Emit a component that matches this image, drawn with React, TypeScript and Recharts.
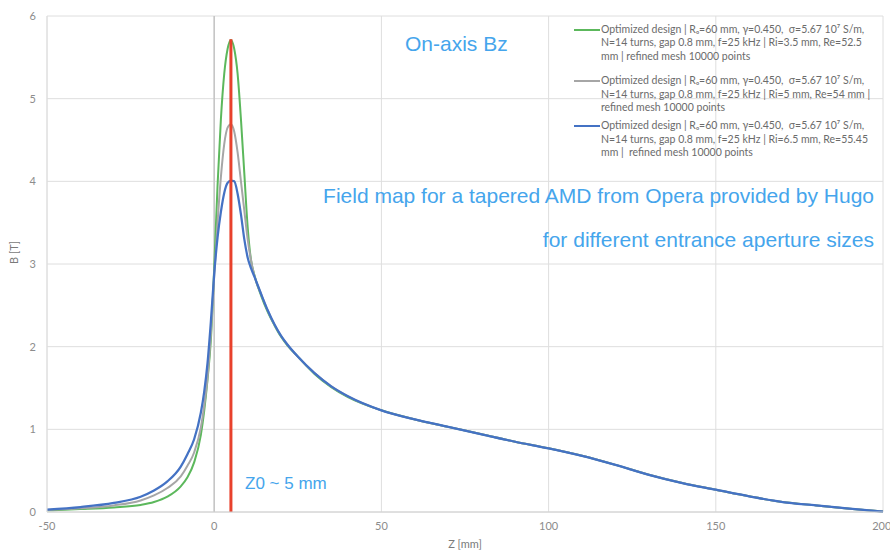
import React from "react";
import {
  LineChart,
  Line,
  XAxis,
  YAxis,
  CartesianGrid,
  ReferenceLine,
  Legend,
} from "recharts";

// axial position in mm
const zValues = [
  -50, -40, -30, -22, -18, -14, -10, -8, -6, -4, -3, -2, -1,
  0, 1, 2, 3, 4, 5, 6, 7, 8, 9, 10, 11,
  12, 14, 16, 18, 20, 22, 25, 30, 35, 40,
  50, 60, 70, 80, 90, 100, 110, 120, 130, 140, 150, 160, 170, 180, 190, 200,
];

// Ri = 3.5 mm
const bRi35 = [
  0.02, 0.035, 0.055, 0.085, 0.12, 0.185, 0.31, 0.42, 0.6, 0.93, 1.22, 1.6, 2.08,
  2.95, 3.95, 4.75, 5.3, 5.6, 5.71, 5.6, 5.3, 4.75, 4.1, 3.45, 3.05,
  2.87, 2.62, 2.42, 2.26, 2.12, 2.01, 1.88, 1.67, 1.51, 1.39,
  1.23, 1.12, 1.03, 0.94, 0.85, 0.77, 0.68, 0.57, 0.45, 0.35, 0.27, 0.19, 0.12, 0.08, 0.04, 0.005,
];

// Ri = 5 mm
const bRi5 = [
  0.025, 0.045, 0.08, 0.14, 0.2, 0.29, 0.43, 0.56, 0.72, 1.02, 1.28, 1.62, 2.15,
  2.85, 3.5, 4.05, 4.45, 4.65, 4.69, 4.6, 4.35, 4.0, 3.65, 3.3, 3.05,
  2.86, 2.64, 2.44, 2.27, 2.13, 2.02, 1.88, 1.68, 1.52, 1.4,
  1.23, 1.12, 1.03, 0.94, 0.85, 0.77, 0.68, 0.57, 0.45, 0.35, 0.27, 0.19, 0.12, 0.08, 0.04, 0.005,
];

// Ri = 6.5 mm
const bRi65 = [
  0.03, 0.06, 0.11, 0.185, 0.26, 0.37, 0.55, 0.7, 0.88, 1.2, 1.45, 1.8, 2.3,
  2.88, 3.32, 3.63, 3.86, 3.98, 4.01, 4.0, 3.85, 3.6, 3.3, 3.08, 2.95,
  2.85, 2.64, 2.44, 2.27, 2.13, 2.02, 1.88, 1.68, 1.52, 1.4,
  1.23, 1.12, 1.03, 0.94, 0.85, 0.77, 0.68, 0.57, 0.45, 0.35, 0.27, 0.19, 0.12, 0.08, 0.04, 0.005,
];

const xTicks = [-50, 0, 50, 100, 150, 200];
const yTicks = [0, 1, 2, 3, 4, 5, 6];

const z0 = 5;
const z0Top = 5.72;

const legendHead = "Optimized design | R\u2092=60 mm, \u03b3=0.450,  \u03c3=5.67 10\u2077 S/m,";
const legendRows = [
  { key: "ri35", color: "#5cb85c", gap: 11, lines: [legendHead, "N=14 turns, gap 0.8 mm, f=25 kHz | Ri=3.5 mm, Re=52.5", "mm | refined mesh 10000 points"] },
  { key: "ri5", color: "#a6a6a6", gap: 5, lines: [legendHead, "N=14 turns, gap 0.8 mm, f=25 kHz | Ri=5 mm, Re=54 mm |", "refined mesh 10000 points"] },
  { key: "ri65", color: "#4472c4", gap: 0, lines: [legendHead, "N=14 turns, gap 0.8 mm, f=25 kHz | Ri=6.5 mm, Re=55.45", "mm |  refined mesh 10000 points"] },
];

const data = zValues.map((z, i) => ({ z, ri35: bRi35[i], ri5: bRi5[i], ri65: bRi65[i] }));

const tickStyle = { fill: "#8c8c8c", fontSize: 11, fontFamily: "Lato, sans-serif" };
const noteColor = "#45a5ec";

function renderLegend() {
  return (
    <div style={{ fontFamily: "Lato, sans-serif", fontSize: 10.5, color: "#6b6b6b", lineHeight: "13.4px" }}>
      {legendRows.map((r) => (
        <div key={r.key} style={{ position: "relative", paddingLeft: 27, marginBottom: r.gap }}>
          <div style={{ position: "absolute", left: 0, top: 6, width: 26, height: 2, background: r.color }} />
          {r.lines.map((l, i) => (
            <div key={i} style={{ whiteSpace: "pre" }}>{l}</div>
          ))}
        </div>
      ))}
    </div>
  );
}

export default function App() {
  return (
    <div style={{ position: "absolute", left: 0, top: 0, width: 890, height: 552, background: "#fff" }}>
      <LineChart width={890} height={552} data={data} margin={{ top: 16, right: 7, bottom: 0, left: 0 }}>
        <CartesianGrid stroke="#dedede" strokeWidth={1} />
        <XAxis
          dataKey="z"
          type="number"
          domain={[-50, 200]}
          ticks={xTicks}
          tick={tickStyle}
          tickSize={0}
          tickMargin={10}
          height={40}
          stroke="#d0d0d0"
          label={{ value: "Z [mm]", position: "insideBottom", offset: 4, fill: "#7a7a7a", fontSize: 11, fontFamily: "Lato, sans-serif" }}
        />
        <YAxis
          type="number"
          domain={[0, 6]}
          ticks={yTicks}
          tick={tickStyle}
          tickSize={0}
          tickMargin={11}
          width={47}
          stroke="#dedede"
          label={{ value: "B [T]", angle: -90, position: "insideLeft", offset: 14, fill: "#7a7a7a", fontSize: 11, fontFamily: "Lato, sans-serif" }}
        />
        <ReferenceLine x={0} stroke="#c4c4c4" strokeWidth={1.5} />
        <Legend
          layout="vertical"
          align="center"
          verticalAlign="middle"
          content={renderLegend}
          wrapperStyle={{ left: 574, top: 23, width: 310 }}
        />
        <Line type="monotone" dataKey="ri35" stroke="#5cb85c" strokeWidth={2} dot={false} isAnimationActive={false} />
        <Line type="monotone" dataKey="ri5" stroke="#a6a6a6" strokeWidth={2} dot={false} isAnimationActive={false} />
        <Line type="monotone" dataKey="ri65" stroke="#4472c4" strokeWidth={2.25} dot={false} isAnimationActive={false} />
        <ReferenceLine
          segment={[{ x: z0, y: 0 }, { x: z0, y: z0Top }]}
          stroke="#e8412c"
          strokeWidth={3}
        />
      </LineChart>
      <div style={{ position: "absolute", left: 405, top: 33, fontFamily: "Liberation Sans, sans-serif", fontSize: 21, lineHeight: "21px", color: noteColor }}>
        On-axis Bz
      </div>
      <div style={{ position: "absolute", right: 16, top: 185, fontFamily: "Liberation Sans, sans-serif", fontSize: 21, lineHeight: "21px", color: noteColor, whiteSpace: "nowrap" }}>
        Field map for a tapered AMD from Opera provided by Hugo
      </div>
      <div style={{ position: "absolute", right: 16, top: 229, fontFamily: "Liberation Sans, sans-serif", fontSize: 21, lineHeight: "21px", color: noteColor, whiteSpace: "nowrap" }}>
        for different entrance aperture sizes
      </div>
      <div style={{ position: "absolute", left: 245, top: 475, fontFamily: "Liberation Sans, sans-serif", fontSize: 17, lineHeight: "17px", color: noteColor }}>
        Z0 ~ 5 mm
      </div>
    </div>
  );
}
